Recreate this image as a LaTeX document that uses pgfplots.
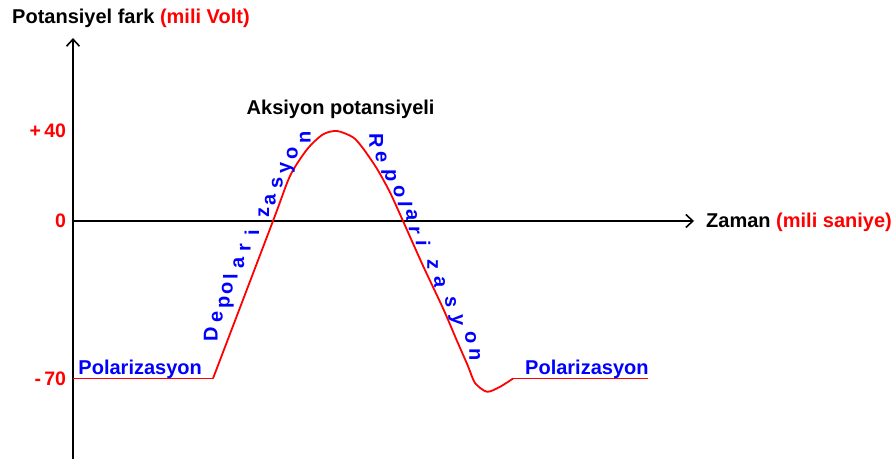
\documentclass[border=0pt]{standalone}
\usepackage{pgfplots}
\pgfplotsset{compat=1.18}
\usepackage{fontspec}
\setmainfont{Liberation Sans}
\usetikzlibrary{arrows.meta}

\definecolor{apred}{RGB}{255,0,0}
\definecolor{apblue}{RGB}{0,0,255}

% Action potential: time (arbitrary ms units) vs. membrane potential (mV)
% resting potential before the spike
\pgfplotstableread{
t     v
0.00  -70
1.40  -70
}\restA
% depolarisation, peak and repolarisation with undershoot
\pgfplotstableread{
t     v
1.40  -70
2.00    0
2.17   20
2.34   31.8
2.50   38.5
2.64   40
2.80   37.2
2.90   32.3
3.04   23.2
3.17   12.7
3.30    0
3.50  -19.9
3.70  -38.8
3.84  -53.3
3.95  -64.5
4.02  -72.0
4.14  -75.9
4.27  -73.7
4.40  -70
}\spike
% resting potential after the spike
\pgfplotstableread{
t     v
4.40  -70
5.75  -70
}\restB

\begin{document}
\begin{tikzpicture}
\begin{axis}[
  x=100bp, y=2.25bp,
  xmin=0, xmax=6.21,
  ymin=-105.8, ymax=81.3,
  axis lines=middle,
  axis line style={black, line width=1.6bp,
    -{Straight Barb[length=7bp,width=13bp,line width=1.6bp]}},
  xtick=\empty,
  ytick={-70,0,40},
  yticklabels={\textbf{-\,70},\textbf{0},\textbf{+\,40}},
  hide obscured y ticks=false,
  major tick length=0pt,
  yticklabel style={anchor=east, xshift=-3.5bp, text=apred,
    font=\fontsize{19.5bp}{22bp}\selectfont\bfseries},
  clip=false,
]
\addplot[apred, line width=1.8bp] table[x=t, y=v] {\restA};
\addplot[apred, line width=1.8bp, smooth, tension=0.45] table[x=t, y=v] {\spike};
\addplot[apred, line width=1.8bp] table[x=t, y=v] {\restB};
\coordinate (O) at (axis cs:0,0);
\end{axis}

\begin{scope}[x=1bp, y=-1bp, shift={(O)}, shift={(-73,-221)},
  font=\fontsize{20bp}{23bp}\selectfont\bfseries]
  \node[anchor=base west, inner sep=0] at (12,24)
    {Potansiyel fark \textcolor{apred}{(mili Volt)}};
  \node[anchor=base west, inner sep=0] at (706,227.7)
    {Zaman \textcolor{apred}{(mili saniye)}};
  \node[anchor=base west, inner sep=0] at (246.5,115) {Aksiyon potansiyeli};
  \node[anchor=base west, inner sep=0, text=apblue] at (78.3,375) {Polarizasyon};
  \node[anchor=base west, inner sep=0, text=apblue] at (525,375) {Polarizasyon};

  % rising phase, letters set along the curve
  \foreach \c/\px/\py in {D/215/334, e/220/317, p/227/302, o/230/288, l/235/277,
      a/241.5/263, r/248/248, i/256.5/233, z/266.5/213, a/273/200, s/280/183,
      y/288/168, o/295/153, n/308/137}
    \node[rotate=90, inner sep=0, text height=0.53em, text depth=0pt,
      text=apblue, font=\fontsize{20bp}{23bp}\selectfont\bfseries]
      at (\px,\py) {\c};

  % falling phase
  \foreach \c/\px/\py in {R/372/141, e/378.5/157, p/388/176, o/396.5/192,
      l/400.5/204, a/409/215, r/411.5/230, i/418.5/243, z/430/265, a/437/282,
      s/448/302, y/455/320, o/468/338, n/472/355}
    \node[rotate=-90, inner sep=0, text height=0.53em, text depth=0pt,
      text=apblue, font=\fontsize{20bp}{23bp}\selectfont\bfseries]
      at (\px,\py) {\c};

  \pgfresetboundingbox
  \path[use as bounding box] (0,0) rectangle (896,459);
\end{scope}
\end{tikzpicture}
\end{document}
